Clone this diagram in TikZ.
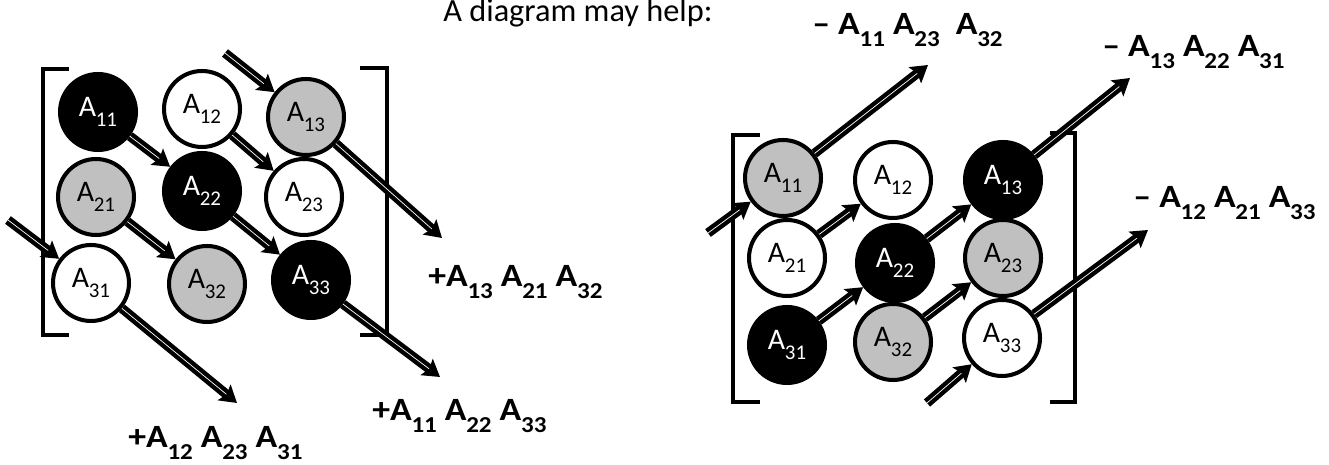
\documentclass[tikz,border=0pt]{standalone}
\usepackage{fontspec}
\setmainfont{Carlito}
\newfontfamily\termfont[FakeStretch=1.1]{Carlito}
\usetikzlibrary{arrows.meta}
\definecolor{elgray}{RGB}{192,192,192}
\newcommand{\ent}[1]{A\kern-0.01em\raisebox{-0.34em}{\scalebox{0.7}{#1}}}
\tikzset{
  elem/.style={circle, draw=black, line width=2.3pt, minimum size=1.52cm, inner sep=0pt, font=\fontsize{17}{20}\selectfont},
  blk/.style={elem, fill=black, text=white},
  wht/.style={elem, fill=white},
  gry/.style={elem, fill=elgray},
  dbl/.style={draw=black, double=white, double distance=0.4pt, line width=2.5pt, -{Stealth[length=3.3mm,width=4mm,inset=0.6mm]}},
  bracket/.style={line width=1.9pt},
  term/.style={inner sep=0pt, anchor=base west, font=\termfont\bfseries\fontsize{18.5}{22}\selectfont}
}
\begin{document}
\begin{tikzpicture}[x=0.02cm, y=-0.02cm]
  \useasboundingbox (0,0) rectangle (1329,465);
  \node[inner sep=0pt, anchor=base west, font=\fontsize{18.4}{22}\selectfont] (head) at (443,22) {A diagram may help:};
  % left matrix, products with plus sign
  \node[blk] (l11) at (98,112) {\ent{11}};
  \node[wht] (l12) at (202,109) {\ent{12}};
  \node[gry] (l13) at (306,117) {\ent{13}};
  \node[gry] (l21) at (96,197) {\ent{21}};
  \node[blk] (l22) at (202,191) {\ent{22}};
  \node[wht] (l23) at (304,197) {\ent{23}};
  \node[wht] (l31) at (91,283) {\ent{31}};
  \node[gry] (l32) at (207,284) {\ent{32}};
  \node[blk] (l33) at (311,280) {\ent{33}};
  \draw[bracket] (69,69) -- (43,69) -- (43,335) -- (69,335);
  \draw[bracket] (360,68) -- (387,68) -- (387,335) -- (360,335);
  \coordinate (ls13) at (225,53);
  \coordinate (ls31) at (8,220);
  \coordinate (le13) at (442,238);
  \coordinate (le31) at (237,403);
  \coordinate (le33) at (440,377);
  \draw[dbl] (ls13) -- (l13);
  \draw[dbl] (l11) -- (l22);
  \draw[dbl] (l12) -- (l23);
  \draw[dbl] (l13) -- (le13);
  \draw[dbl] (ls31) -- (l31);
  \draw[dbl] (l21) -- (l32);
  \draw[dbl] (l22) -- (l33);
  \draw[dbl] (l31) -- (le31);
  \draw[dbl] (l33) -- (le33);
  \node[term] (lt1) at (428,287) {+\ent{13} \ent{21} \ent{32}};
  \node[term] (lt2) at (372,421) {+\ent{11} \ent{22} \ent{33}};
  \node[term] (lt3) at (128,448) {+\ent{12} \ent{23} \ent{31}};
  % right matrix, products with minus sign
  \node[gry] (r11) at (783,178) {\ent{11}};
  \node[wht] (r12) at (893,180) {\ent{12}};
  \node[blk] (r13) at (1003,180) {\ent{13}};
  \node[wht] (r21) at (787,258) {\ent{21}};
  \node[blk] (r22) at (895,263) {\ent{22}};
  \node[gry] (r23) at (1003,258) {\ent{23}};
  \node[blk] (r31) at (787,345) {\ent{31}};
  \node[gry] (r32) at (893,342) {\ent{32}};
  \node[wht] (r33) at (1002,338) {\ent{33}};
  \draw[bracket] (760,135) -- (733,135) -- (733,402) -- (760,402);
  \draw[bracket] (1050,133) -- (1075,133) -- (1075,402) -- (1050,402);
  \coordinate (rs11) at (708,233);
  \coordinate (rs33) at (927,403);
  \coordinate (re11) at (928,65);
  \coordinate (re13) at (1130,78);
  \coordinate (re33) at (1148,230);
  \draw[dbl] (rs11) -- (r11);
  \draw[dbl] (r11) -- (re11);
  \draw[dbl] (r21) -- (r12);
  \draw[dbl] (r31) -- (r22);
  \draw[dbl] (r22) -- (r13);
  \draw[dbl] (r13) -- (re13);
  \draw[dbl] (r32) -- (r23);
  \draw[dbl] (rs33) -- (r33);
  \draw[dbl] (r33) -- (re33);
  \node[term] (rt1) at (812,35) {\textendash\ \ent{11} \ent{23}\ \ \ent{32}};
  \node[term] (rt2) at (1102,57) {\textendash\ \ent{13} \ent{22} \ent{31}};
  \node[term] (rt3) at (1133,208) {\textendash\ \ent{12} \ent{21} \ent{33}};
\end{tikzpicture}
\end{document}
